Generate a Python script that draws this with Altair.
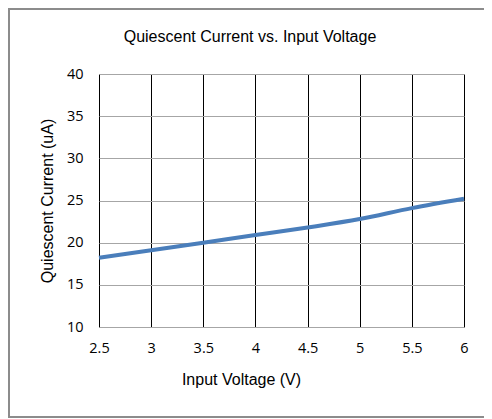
import altair as alt
import pandas as pd

voltage = [2.5, 3.0, 3.5, 4.0, 4.5, 5.0, 5.5, 6.0]
current = [18.2, 19.1, 20.0, 20.9, 21.8, 22.8, 24.1, 25.2]
x_ticks = [2.5, 3, 3.5, 4, 4.5, 5, 5.5, 6]
y_ticks = [10, 15, 20, 25, 30, 35, 40]
chart_title = "Quiescent Current vs. Input Voltage"

df = pd.DataFrame({"v": voltage, "i": current})
one = pd.DataFrame({"t": [chart_title]})

FONT = "Liberation Sans"
TICK_FONT = "Open Sans"
W, H = 365, 253
PL, PT = 91, 66
TOTAL_W, TOTAL_H = 476, 411

line = alt.Chart(df).mark_line(
    color="#4a7ebb", strokeWidth=4, interpolate="monotone"
).encode(
    x=alt.X("v:Q",
            scale=alt.Scale(domain=[2.5, 6], nice=False, zero=False),
            axis=alt.Axis(values=x_ticks, title="Input Voltage (V)", format="~g",
                          labelFontSize=14.5, labelFont=TICK_FONT, labelColor="#000",
                          labelPadding=14, tickSize=0, domain=False,
                          gridColor="#000", gridOpacity=1, gridWidth=1,
                          labelFlush=False,
                          titleFont=FONT, titleFontSize=16, titleFontWeight="normal",
                          titleColor="#000", titleX=142, titleY=52,
                          titleBaseline="middle", titleAnchor="middle",
                          titleAlign="center")),
    y=alt.Y("i:Q",
            scale=alt.Scale(domain=[10, 40], nice=False, zero=False),
            axis=alt.Axis(values=y_ticks, title="Quiescent Current (uA)",
                          labelFontSize=14.5, labelFont=TICK_FONT, labelColor="#000",
                          labelPadding=16, tickSize=0, domain=False,
                          gridColor="#a6a6a6", gridOpacity=1, gridWidth=1,
                          labelFlush=False,
                          titleFont=FONT, titleFontSize=16, titleFontWeight="normal",
                          titleColor="#000", titleX=-52, titleY=H / 2,
                          titleBaseline="middle", titleAngle=-90,
                          titleAlign="center")),
)

title_text = alt.Chart(one).mark_text(
    font=FONT, fontSize=16, fontWeight="normal", color="#000",
    align="center", baseline="alphabetic"
).encode(
    x=alt.value(151), y=alt.value(-32.5), text="t:N"
)

border_color = "#8c8c8c"
top_border = alt.Chart(one).mark_rule(color=border_color, strokeWidth=2).encode(
    x=alt.value(-PL), x2=alt.value(TOTAL_W - PL), y=alt.value(-PT + 1))
left_border = alt.Chart(one).mark_rule(color=border_color, strokeWidth=2).encode(
    x=alt.value(-PL + 1), y=alt.value(-PT), y2=alt.value(343))
bottom_border = alt.Chart(one).mark_rule(color=border_color, strokeWidth=2).encode(
    x=alt.value(-PL), x2=alt.value(TOTAL_W - PL), y=alt.value(343))

chart = alt.layer(line, title_text, top_border, left_border, bottom_border).properties(
    width=W, height=H,
    autosize=alt.AutoSizeParams(type="none"),
    padding={"left": PL, "top": PT, "right": TOTAL_W - PL - W, "bottom": TOTAL_H - PT - H},
).configure_view(stroke="#000", strokeWidth=1).configure(background="white")

chart.save("out.html", embed_options={"renderer": "svg", "actions": False})
